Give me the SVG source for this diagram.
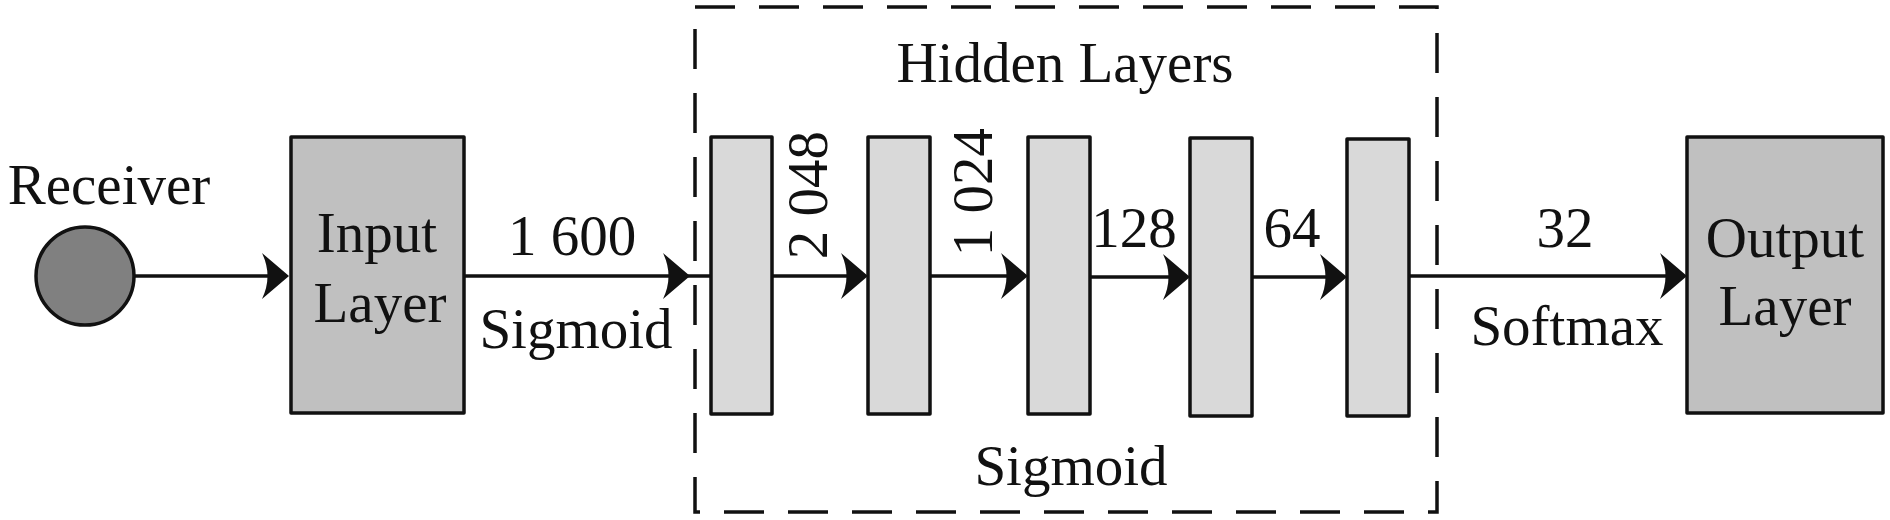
<svg xmlns="http://www.w3.org/2000/svg" xmlns:xlink="http://www.w3.org/1999/xlink" width="1890" height="520" viewBox="0 0 1890 520">
<style>
  text { font-family: "Liberation Serif", "Times New Roman", serif; font-size: 57px; fill: #111; }
  .box { stroke: #111; stroke-width: 3.5; stroke-linejoin: round; }
  .main { fill: #c0c0c0; }
  .hid { fill: #d9d9d9; }
  .line { stroke: #111; stroke-width: 3.3; fill: none; }
  .dash { stroke: #111; stroke-width: 3.5; fill: none; stroke-dasharray: 40 24; }
</style>
<defs>
  <path id="ah" d="M0,0 L-27,-23 Q-16,0 -27,23 Z" fill="#111"/>
</defs>
<rect width="1890" height="520" fill="#fff"/>

<g id="hidden-frame">
  <rect class="dash" x="695" y="7" width="742" height="505"/>
  <text x="1065" y="82" text-anchor="middle">Hidden Layers</text>
  <text x="1071" y="485" text-anchor="middle">Sigmoid</text>
</g>

<g id="connectors">
  <line class="line" x1="135" y1="276" x2="275" y2="276"/>
  <use xlink:href="#ah" x="289" y="276"/>
  <line class="line" x1="464" y1="276" x2="711" y2="276"/>
  <use xlink:href="#ah" x="690" y="276"/>
  <line class="line" x1="772" y1="276" x2="855" y2="276"/>
  <use xlink:href="#ah" x="868" y="276"/>
  <line class="line" x1="930" y1="276" x2="1015" y2="276"/>
  <use xlink:href="#ah" x="1028" y="276"/>
  <line class="line" x1="1090" y1="277" x2="1177" y2="277"/>
  <use xlink:href="#ah" x="1190" y="277"/>
  <line class="line" x1="1252" y1="277" x2="1334" y2="277"/>
  <use xlink:href="#ah" x="1347" y="277"/>
  <line class="line" x1="1409" y1="276" x2="1674" y2="276"/>
  <use xlink:href="#ah" x="1687" y="276"/>
  <text x="572" y="255" text-anchor="middle">1 600</text>
  <text x="576" y="348" text-anchor="middle">Sigmoid</text>
  <text transform="translate(827,195) rotate(-90)" text-anchor="middle">2 048</text>
  <text transform="translate(992,192) rotate(-90)" text-anchor="middle">1 024</text>
  <text x="1134" y="247" text-anchor="middle">128</text>
  <text x="1292" y="247" text-anchor="middle">64</text>
  <text x="1565" y="247" text-anchor="middle">32</text>
  <text x="1567" y="345" text-anchor="middle">Softmax</text>
</g>

<g id="receiver">
  <circle cx="85" cy="276" r="49" fill="#808080" stroke="#111" stroke-width="3.5"/>
  <text x="109" y="204" text-anchor="middle">Receiver</text>
</g>

<g id="input-layer">
  <rect class="box main" x="291" y="137" width="173" height="276"/>
  <text x="377" y="252" text-anchor="middle">Input</text>
  <text x="380" y="322" text-anchor="middle">Layer</text>
</g>

<g id="hidden-1"><rect class="box hid" x="711" y="137" width="61" height="277"/></g>
<g id="hidden-2"><rect class="box hid" x="868" y="137" width="62" height="277"/></g>
<g id="hidden-3"><rect class="box hid" x="1028" y="137" width="62" height="277"/></g>
<g id="hidden-4"><rect class="box hid" x="1190" y="138" width="62" height="278"/></g>
<g id="hidden-5"><rect class="box hid" x="1347" y="139" width="62" height="277"/></g>

<g id="output-layer">
  <rect class="box main" x="1687" y="137" width="196" height="276"/>
  <text x="1785" y="257" text-anchor="middle">Output</text>
  <text x="1785" y="325" text-anchor="middle">Layer</text>
</g>
</svg>
